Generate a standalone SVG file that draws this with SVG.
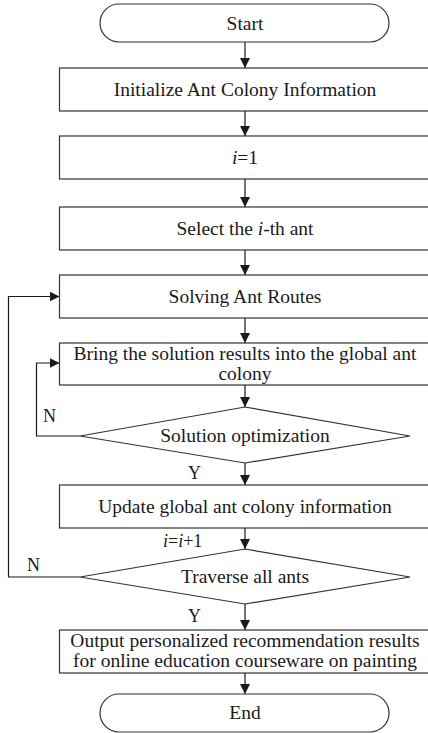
<svg xmlns="http://www.w3.org/2000/svg" width="428" height="733" viewBox="0 0 428 733">
<defs>
<marker id="ah" viewBox="0 0 10 10" refX="10" refY="5" markerWidth="10" markerHeight="10" markerUnits="userSpaceOnUse" orient="auto">
<path d="M0,0 L10,5 L0,10 Z" fill="#1a1a1a"/>
</marker>
<style>
.s{fill:#fff;stroke:#333;stroke-width:1.2}
.t{font-family:"Liberation Serif","Times New Roman",serif;font-size:19.5px;fill:#1a1a1a;text-anchor:middle}
.l{font-family:"Liberation Serif","Times New Roman",serif;font-size:18px;fill:#1a1a1a}
.c{fill:none;stroke:#1a1a1a;stroke-width:1.2;marker-end:url(#ah)}
</style>
</defs>
<rect width="428" height="733" fill="#fff"/>
<g id="connectors">
<path class="c" d="M245,42 V68"/>
<path class="c" d="M245,111 V136"/>
<path class="c" d="M245,179 V207"/>
<path class="c" d="M245,250 V275"/>
<path class="c" d="M245,318 V343"/>
<path class="c" d="M245,385 V407"/>
<path class="c" d="M245,463 V485"/>
<path class="c" d="M245,528 V549"/>
<path class="c" d="M245,604 V630"/>
<path class="c" d="M245,673 V694"/>
<path class="c" d="M80,436 H36.5 V363 H59.5"/>
<path class="c" d="M80,577 H8.5 V296.5 H59.5"/>
</g>
<g id="start"><rect class="s" x="100" y="4" width="289" height="38" rx="19"/><text class="t" x="245" y="29.5">Start</text></g>
<g id="init"><rect class="s" x="59.5" y="68" width="372" height="43"/><text class="t" x="245" y="96">Initialize Ant Colony Information</text></g>
<g id="i1"><rect class="s" x="59.5" y="136" width="372" height="43"/><text class="t" x="245" y="164"><tspan font-style="italic">i</tspan>=1</text></g>
<g id="select"><rect class="s" x="59.5" y="207" width="372" height="43"/><text class="t" x="245" y="235">Select the <tspan font-style="italic">i</tspan>-th ant</text></g>
<g id="solve"><rect class="s" x="59.5" y="275" width="372" height="43"/><text class="t" x="245" y="303">Solving Ant Routes</text></g>
<g id="bring"><rect class="s" x="59.5" y="343" width="372" height="42"/><text class="t" x="245" y="360">Bring the solution results into the global ant</text><text class="t" x="245" y="380">colony</text></g>
<g id="opt"><polygon class="s" points="245,407 410,436 245,463 80,436"/><text class="t" x="245" y="442">Solution optimization</text></g>
<g id="update"><rect class="s" x="59.5" y="485" width="372" height="43"/><text class="t" x="245" y="513">Update global ant colony information</text></g>
<g id="traverse"><polygon class="s" points="245,549 410,577 245,604 80,577"/><text class="t" x="245" y="583">Traverse all ants</text></g>
<g id="output"><rect class="s" x="59.5" y="630" width="372" height="43"/><text class="t" x="245" y="647">Output personalized recommendation results</text><text class="t" x="245" y="667">for online education courseware on painting</text></g>
<g id="end"><rect class="s" x="100" y="694" width="289" height="38" rx="19"/><text class="t" x="245" y="719">End</text></g>
<g id="labels">
<text class="l" x="43" y="422">N</text>
<text class="l" x="188" y="479">Y</text>
<text class="l" x="163" y="547"><tspan font-style="italic">i</tspan>=<tspan font-style="italic">i</tspan>+1</text>
<text class="l" x="27" y="571">N</text>
<text class="l" x="188" y="622">Y</text>
</g>
</svg>
